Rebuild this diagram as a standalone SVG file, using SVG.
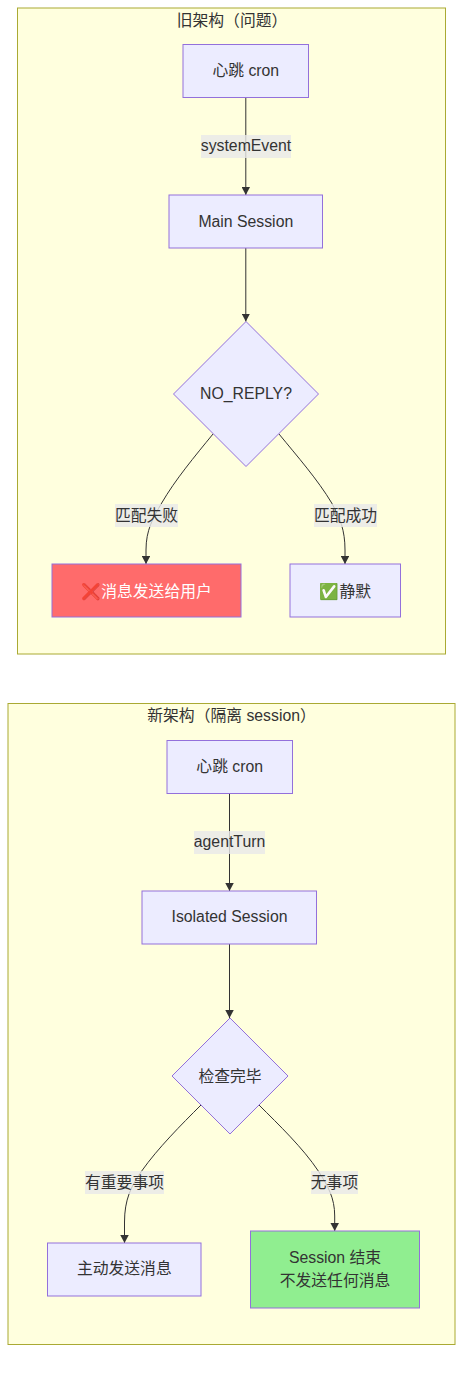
<svg xmlns="http://www.w3.org/2000/svg" width="471" height="1376" viewBox="0 0 471 1376">
<style>
text{font-family:"Liberation Sans","Noto Sans CJK SC",sans-serif;font-size:15.8px;fill:#333;text-anchor:middle}
.cluster{fill:#ffffde;stroke:#aaaa33;stroke-width:1}
.node{fill:#ececff;stroke:#9370db;stroke-width:1}
.edge{fill:none;stroke:#333;stroke-width:1;marker-end:url(#arrow)}
.lbl{fill:#e8e8e8;fill-opacity:.8}
</style>
<defs><marker id="arrow" viewBox="0 0 10 10" refX="10" refY="5" markerUnits="userSpaceOnUse" markerWidth="8" markerHeight="8.500" orient="auto" preserveAspectRatio="none"><path d="M0 0L10 5L0 10z" fill="#333"/></marker></defs>
<g id="cluster-old"><rect class="cluster" x="17.500" y="8" width="428" height="646"/><text x="232" y="25.500">旧架构（问题）</text></g>
<g id="cluster-new"><rect class="cluster" x="8" y="703.500" width="447" height="641"/><text x="231.500" y="720.500">新架构（隔离 session）</text></g>
<g id="connectors">
<path class="edge" d="M245.800 97.500V195"/>
<path class="edge" d="M245.800 248V321.500"/>
<path class="edge" d="M213 434C195 456 175 480 161.700 503C153 518 146 530 146 550L146 564"/>
<path class="edge" d="M279 434C297 456 318 480 331.700 503C340 518 345 530 345 550L345 564"/>
<path class="edge" d="M229.500 793.500V891"/>
<path class="edge" d="M229.500 944V1018"/>
<path class="edge" d="M201 1105C181 1125 158 1148 141.700 1171C131 1186 124.500 1200 124.500 1222L124.500 1243"/>
<path class="edge" d="M259 1105C279 1125 303 1148 318.300 1171C328 1186 334.700 1198 334.700 1216L334.700 1231"/>
</g>
<g id="edge-labels">
<rect class="lbl" x="201" y="135" width="90" height="23"/><text x="246" y="151">systemEvent</text>
<rect class="lbl" x="115" y="504" width="63" height="23"/><text x="146.500" y="521">匹配失败</text>
<rect class="lbl" x="314" y="504" width="63" height="23"/><text x="345.500" y="521">匹配成功</text>
<rect class="lbl" x="194" y="831" width="71" height="23"/><text x="229.500" y="847">agentTurn</text>
<rect class="lbl" x="85" y="1171" width="79" height="23"/><text x="124.500" y="1188">有重要事项</text>
<rect class="lbl" x="311" y="1171" width="47" height="23"/><text x="334.500" y="1188">无事项</text>
</g>
<g id="n-heartbeat-old"><rect class="node" x="183" y="44.500" width="125.500" height="53"/><text x="245.800" y="76">心跳 cron</text></g>
<g id="n-main"><rect class="node" x="169" y="195" width="153.500" height="53"/><text x="245.800" y="227">Main Session</text></g>
<g id="n-noreply"><polygon class="node" points="246,321.500 318.500,394 246,466.500 173.500,394"/><text x="246" y="399">NO_REPLY?</text></g>
<g id="n-sent"><rect class="node" style="fill:#ff6b6b" x="52" y="564" width="189" height="53"/><text style="fill:#fff" x="146.500" y="597">❌消息发送给用户</text></g>
<g id="n-silent"><rect class="node" x="290" y="564" width="110.500" height="53"/><text x="345.300" y="597">✅静默</text></g>
<g id="n-heartbeat-new"><rect class="node" x="167" y="740.500" width="125.500" height="53"/><text x="229.700" y="772">心跳 cron</text></g>
<g id="n-isolated"><rect class="node" x="142" y="891" width="174.500" height="53"/><text x="229.500" y="922">Isolated Session</text></g>
<g id="n-check"><polygon class="node" points="230,1018 288,1076 230,1134 172,1076"/><text x="230" y="1081.500">检查完毕</text></g>
<g id="n-send"><rect class="node" x="47.500" y="1243" width="153.500" height="53"/><text x="124.300" y="1274">主动发送消息</text></g>
<g id="n-end"><rect class="node" style="fill:#90ee90" x="250.500" y="1231" width="169" height="77"/><text x="335" y="1263">Session 结束</text><text x="335" y="1286">不发送任何消息</text></g>
</svg>
